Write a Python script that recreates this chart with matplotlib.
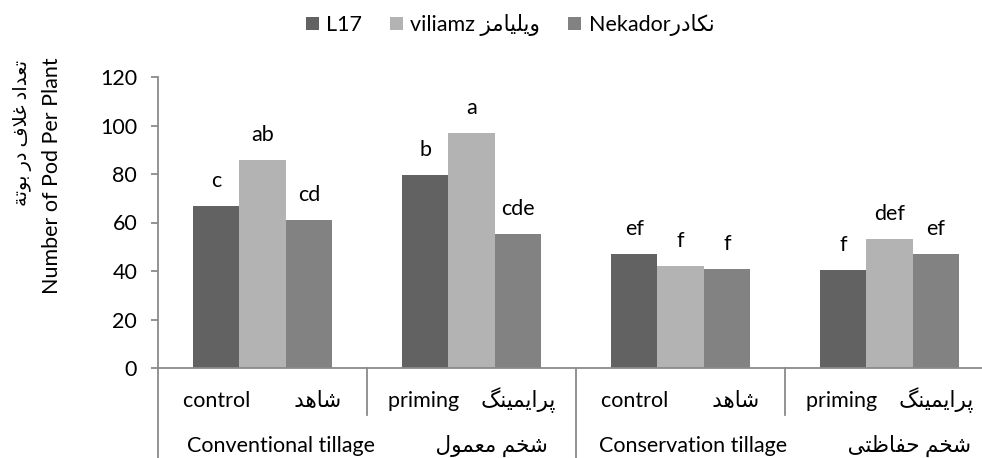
import numpy as np
import matplotlib
matplotlib.use('Agg')
import matplotlib.pyplot as plt
import matplotlib.transforms as mtrans

# data
groups_en = ['Conventional tillage', 'Conservation tillage']
groups_fa = ['شخم معمول', 'شخم حفاظتی']
sub_en = ['control', 'priming', 'control', 'priming']
sub_fa = ['شاهد', 'پرایمینگ', 'شاهد', 'پرایمینگ']
series_en = ['L17', 'viliamz ', 'Nekador']
series_fa = ['', 'ویلیامز', 'نکادر']
l17 = [67.0, 79.6, 47.2, 40.3]
viliamz = [85.7, 97.0, 42.0, 53.1]
nekador = [61.0, 55.1, 40.7, 47.0]
let_l17 = ['c', 'b', 'ef', 'f']
let_vil = ['ab', 'a', 'f', 'def']
let_nek = ['cd', 'cde', 'f', 'ef']
yticks = [0, 20, 40, 60, 80, 100, 120]
ylab_en = 'Number of Pod Per Plant'
ylab_fa = 'تعداد غلاف در بوتة'

colors = ['#626262', '#b3b3b3', '#828282']
axis_col = '#8a8a8a'
FAM = ['Lato', 'DejaVu Sans']
FS = 15.5

# small persian shaper (matplotlib does no arabic shaping)
# isolated, final, initial, medial
FORMS = {
    'ا': (0xFE8D, 0xFE8E, None, None),
    'ب': (0xFE8F, 0xFE90, 0xFE91, 0xFE92),
    'پ': (0xFB56, 0xFB57, 0xFB58, 0xFB59),
    'ت': (0xFE95, 0xFE96, 0xFE97, 0xFE98),
    'ة': (0xFE93, 0xFE94, None, None),
    'ح': (0xFEA1, 0xFEA2, 0xFEA3, 0xFEA4),
    'خ': (0xFEA5, 0xFEA6, 0xFEA7, 0xFEA8),
    'د': (0xFEA9, 0xFEAA, None, None),
    'ر': (0xFEAD, 0xFEAE, None, None),
    'ز': (0xFEAF, 0xFEB0, None, None),
    'ش': (0xFEB5, 0xFEB6, 0xFEB7, 0xFEB8),
    'ظ': (0xFEC5, 0xFEC6, 0xFEC7, 0xFEC8),
    'ع': (0xFEC9, 0xFECA, 0xFECB, 0xFECC),
    'غ': (0xFECD, 0xFECE, 0xFECF, 0xFED0),
    'ف': (0xFED1, 0xFED2, 0xFED3, 0xFED4),
    'ک': (0xFB8E, 0xFB8F, 0xFB90, 0xFB91),
    'گ': (0xFB92, 0xFB93, 0xFB94, 0xFB95),
    'ل': (0xFEDD, 0xFEDE, 0xFEDF, 0xFEE0),
    'م': (0xFEE1, 0xFEE2, 0xFEE3, 0xFEE4),
    'ن': (0xFEE5, 0xFEE6, 0xFEE7, 0xFEE8),
    'ه': (0xFEE9, 0xFEEA, 0xFEEB, 0xFEEC),
    'و': (0xFEED, 0xFEEE, None, None),
    'ی': (0xFBFC, 0xFBFD, 0xFBFE, 0xFBFF),
}


def dual(c):
    return c in FORMS and FORMS[c][2] is not None


def fa(s):
    # joins letters and flips to visual order
    out = []
    i = 0
    while i < len(s):
        c = s[i]
        if c not in FORMS:
            out.append(c)
            i += 1
            continue
        prev_join = i > 0 and dual(s[i - 1]) and not (i > 1 and s[i - 2:i] == 'لا')
        if c == 'ل' and i + 1 < len(s) and s[i + 1] == 'ا':
            out.append(chr(0xFEFC if prev_join else 0xFEFB))
            i += 2
            continue
        next_join = dual(c) and i + 1 < len(s) and s[i + 1] in FORMS
        f = FORMS[c]
        if prev_join and next_join:
            g = f[3]
        elif prev_join:
            g = f[1]
        elif next_join:
            g = f[2]
        else:
            g = f[0]
        out.append(chr(g))
        i += 1
    return ''.join(out)[::-1]


fig = plt.figure(figsize=(9.82, 4.58), dpi=100)
ax = fig.add_axes([158 / 982, 90 / 458, 836 / 982, 291 / 458])

x = np.arange(len(sub_en))
w = 0.2215
all_vals = [l17, viliamz, nekador]
all_lets = [let_l17, let_vil, let_nek]
handles = []
for k in range(3):
    b = ax.bar(x + (k - 1) * w, all_vals[k], w, color=colors[k], linewidth=0)
    handles.append(b)
    for xi, v, t in zip(x + (k - 1) * w, all_vals[k], all_lets[k]):
        ax.annotate(t, (xi, v), xytext=(0, 18), textcoords='offset points',
                    ha='center', va='center', fontsize=FS, family=FAM)

ax.set_xlim(-0.5, 3.5)
ax.set_ylim(0, 120)
ax.set_yticks(yticks)
ax.set_xticks([])
for s in ['top', 'right']:
    ax.spines[s].set_visible(False)
for s in ['left', 'bottom']:
    ax.spines[s].set_color(axis_col)
    ax.spines[s].set_linewidth(1.3)
ax.tick_params(axis='y', direction='out', length=5, width=1.3, color=axis_col,
               pad=10, labelsize=FS)
for lab in ax.get_yticklabels():
    lab.set_family(FAM)

# grouped category axis
tr = mtrans.blended_transform_factory(ax.transData, ax.transAxes)
for xs, y0 in [(-0.5, -0.31), (0.5, -0.162), (1.5, -0.31), (2.5, -0.162)]:
    ax.plot([xs, xs], [0, y0], color=axis_col, lw=1.3, transform=tr, clip_on=False)
gaps = {'control': ' ' * 8, 'priming': ' ' * 4}
for xi, en, f in zip(x, sub_en, sub_fa):
    ax.text(xi, -0.11, en + gaps[en] + fa(f), transform=tr, ha='center', va='center',
            fontsize=FS, family=FAM)
for gi, (en, f) in enumerate(zip(groups_en, groups_fa)):
    ax.text(2 * gi + 0.5, -0.268, en + ' ' * 11 + fa(f), transform=tr,
            ha='center', va='center', fontsize=FS, family=FAM)

# y title, two lines
fig.text(52 / 982, 1 - 57 / 458, ylab_en, rotation=90, ha='center', va='top',
         fontsize=FS, family=FAM)
fig.text(23 / 982, 1 - 60 / 458, fa(ylab_fa), rotation=90, ha='center', va='top',
         fontsize=FS - 1.5, family=FAM)

leg_labels = [e + fa(f) for e, f in zip(series_en, series_fa)]
fig.legend(handles, leg_labels, loc='center', bbox_to_anchor=(510 / 982, 1 - 25 / 458),
           ncol=3, frameon=False, handlelength=0.6, handleheight=0.6,
           handletextpad=0.35, columnspacing=1.3, prop={'family': FAM, 'size': FS})

fig.savefig('out.png', dpi=100)
